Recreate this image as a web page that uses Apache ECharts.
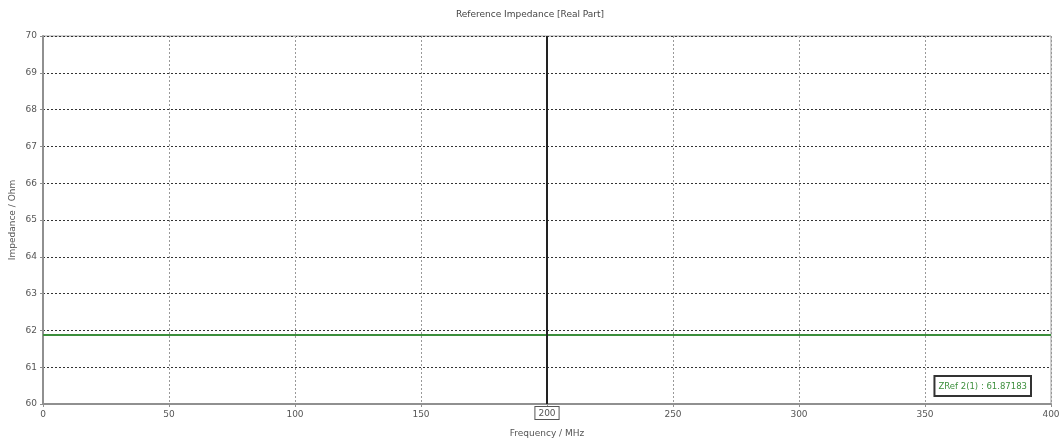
<!DOCTYPE html>
<html><head><meta charset="utf-8">
<script src="https://cdn.jsdelivr.net/npm/echarts@6/dist/echarts.min.js"></script>
<style>html,body{margin:0;padding:0;background:#fff}#c{width:1060px;height:439px}</style>
</head><body><div id="c"></div>
<script>
const titleText = 'Reference Impedance [Real Part]';
const xName = 'Frequency / MHz';
const yName = 'Impedance / Ohm';
const seriesName = 'ZRef 2(1)';
const frequency = [0, 50, 100, 150, 200, 250, 300, 350, 400];
const impedance = [61.87183, 61.87183, 61.87183, 61.87183, 61.87183, 61.87183, 61.87183, 61.87183, 61.87183];
const markerFreq = 200;
const markerValue = 61.87183;

const font = 'DejaVu Sans';
const chart = echarts.init(document.getElementById('c'));
chart.setOption({
  animation: false,
  title: { text: titleText, left: 'center', top: 5, textStyle: { fontFamily: font, fontSize: 9, fontWeight: 'normal', color: '#444' } },
  grid: { left: 43, right: 9, top: 36, bottom: 35, outerBoundsMode: 'none', containLabel: false, show: true, borderColor: '#a0a0a0', borderWidth: 1 },
  xAxis: {
    type: 'value', min: 0, max: 400, interval: 50,
    name: xName, nameLocation: 'middle', nameGap: 25, nameMoveOverlap: false,
    nameTextStyle: { fontFamily: font, fontSize: 9, color: '#555' },
    axisLine: { show: true, lineStyle: { color: '#909090', width: 2 } },
    axisTick: { show: true, length: 3, lineStyle: { color: '#909090' } },
    axisLabel: { fontFamily: font, fontSize: 9, color: '#555', margin: 6 },
    splitLine: { show: true, lineStyle: { color: '#999', type: [2, 2], width: 1 } }
  },
  yAxis: {
    type: 'value', min: 60, max: 70, interval: 1,
    name: yName, nameLocation: 'middle', nameGap: 26, nameMoveOverlap: false,
    nameTextStyle: { fontFamily: font, fontSize: 9, color: '#555' },
    axisLine: { show: true, lineStyle: { color: '#909090', width: 2 } },
    axisTick: { show: true, length: 3, lineStyle: { color: '#909090' } },
    axisLabel: { fontFamily: font, fontSize: 9, color: '#555', margin: 6 },
    splitLine: { show: true, lineStyle: { color: '#333', type: [2, 2], width: 1 } }
  },
  series: [{
    name: seriesName, type: 'line', showSymbol: false,
    data: frequency.map((f, i) => [f, impedance[i]]),
    lineStyle: { color: '#3d8f3d', width: 2 },
    markLine: {
      symbol: 'none', silent: true,
      lineStyle: { color: '#222', type: 'solid', width: 2 },
      label: { show: true, position: 'start', formatter: String(markerFreq), fontFamily: font, fontSize: 9, color: '#555',
        borderColor: '#555', borderWidth: 1, padding: [2, 3, 1, 3], backgroundColor: '#fff', distance: 3 },
      data: [{ xAxis: markerFreq }]
    }
  }],
  graphic: [{
    type: 'text', right: 28, bottom: 42,
    style: { text: seriesName + ' : ' + markerValue, fontFamily: font, fontSize: 8.5, fill: '#3d8f3d',
      backgroundColor: '#fff', borderColor: '#333', borderWidth: 2, padding: [5, 3, 4, 3] }
  }]
});
</script></body></html>
